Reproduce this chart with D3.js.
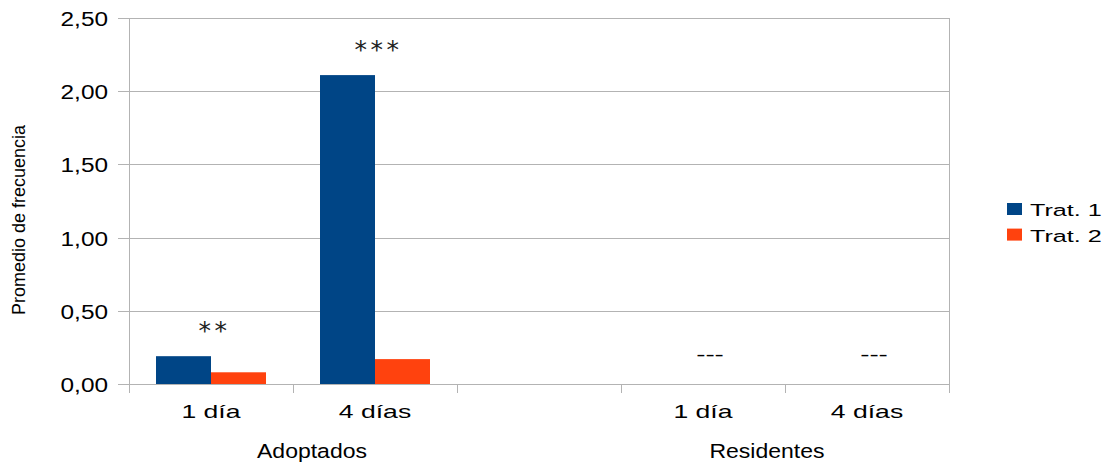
<!DOCTYPE html>
<html>
<head>
<meta charset="utf-8">
<script src="https://cdn.jsdelivr.net/npm/d3@7"></script>
<style>
  html, body { margin: 0; padding: 0; background: #fff; }
  svg { display: block; }
  text { font-family: "Liberation Sans", Arial, sans-serif; fill: #000; }
</style>
</head>
<body>
<script>
// ---- data ----
const groups = ["Adoptados", "Residentes"];
const groupOf = [0, 0, null, 1, 1];
const categories = ["1 día", "4 días", "", "1 día", "4 días"];
const seriesNames = ["Trat. 1", "Trat. 2"];
const trat1 = [0.19, 2.11, null, null, null];
const trat2 = [0.08, 0.17, null, null, null];
const annotations = ["**", "***", "", "---", "---"];
const yTicks = [0, 0.5, 1.0, 1.5, 2.0, 2.5];
const colors = ["#004586", "#ff420e"];

// ---- layout ----
const W = 1111, H = 466;
const pLeft = 129, pRight = 949, pTop = 18, pBottom = 384;
const svg = d3.select("body").append("svg").attr("width", W).attr("height", H);

const x = d3.scaleBand().domain(d3.range(categories.length)).range([pLeft, pRight]).padding(0);
const xs = d3.scaleBand().domain(seriesNames).range([0, x.bandwidth()]).paddingInner(0).paddingOuter(0.491);
const y = d3.scaleLinear().domain([0, 2.5]).range([pBottom, pTop]);
const loc = d3.formatLocale({decimal: ",", thousands: ".", grouping: [3], currency: ["", "€"]});
const fmt = loc.format(".2f");

function stext(g, str, tx, ty, size, sx, anchor, family) {
  const t = g.append("text")
    .attr("transform", `translate(${tx},${ty}) scale(${sx},1)`)
    .attr("text-anchor", anchor)
    .style("font-size", size + "px")
    .text(str);
  if (family) t.style("font-family", family);
  return t;
}

const grid = "#b3b3b3";
// gridlines + y ticks
svg.append("g").selectAll("line").data(yTicks).join("line")
  .attr("x1", pLeft - 11).attr("x2", pRight)
  .attr("y1", d => Math.round(y(d)) + 0.5).attr("y2", d => Math.round(y(d)) + 0.5)
  .attr("stroke", grid).attr("stroke-width", 1);

// y axis line
svg.append("line").attr("x1", pLeft + 0.5).attr("x2", pLeft + 0.5).attr("y1", pTop).attr("y2", pBottom + 9)
  .attr("stroke", grid);
// right border
svg.append("line").attr("x1", pRight + 0.5).attr("x2", pRight + 0.5).attr("y1", pTop).attr("y2", pBottom + 9)
  .attr("stroke", grid);
// x ticks at slot boundaries
const bounds = d3.range(categories.length + 1).map(i => i < categories.length ? x(i) : pRight);
svg.append("g").selectAll("line").data(bounds).join("line")
  .attr("x1", d => Math.round(d) + 0.5).attr("x2", d => Math.round(d) + 0.5)
  .attr("y1", pBottom).attr("y2", pBottom + 9)
  .attr("stroke", grid);

// y tick labels
const yl = svg.append("g");
yTicks.forEach(v => stext(yl, fmt(v), 108, y(v) + 8, 19.5, 1.25, "end"));

// y title
svg.append("text")
  .attr("transform", `translate(25,${(pTop + pBottom) / 2 + 19}) rotate(-90)`)
  .attr("text-anchor", "middle")
  .style("font-size", "18px")
  .text("Promedio de frecuencia");

// bars
const series = [trat1, trat2];
const bars = svg.append("g");
series.forEach((vals, si) => {
  bars.selectAll(null).data(vals.map((v, i) => ({v, i})).filter(d => d.v != null)).join("rect")
    .attr("x", d => x(d.i) + xs(seriesNames[si]))
    .attr("width", xs.bandwidth())
    .attr("y", d => y(d.v))
    .attr("height", d => y(0) - y(d.v))
    .attr("fill", colors[si]);
});

// annotations
const ann = svg.append("g");
annotations.forEach((a, i) => {
  if (!a) return;
  const vmax = d3.max([trat1[i], trat2[i], 0]);
  if (a.startsWith("*")) {
    stext(ann, a, x(i) + x.bandwidth() / 2 + 3.5, y(vmax) - 17, 25, 1, "middle", "DejaVu Sans")
      .style("letter-spacing", "3.5px").style("fill", "#222");
  } else {
    stext(ann, a, x(i) + x.bandwidth() / 2 + 7, y(vmax) - 23, 18.5, 1.5, "middle");
  }
});

// x tick labels
const xl = svg.append("g");
categories.forEach((c, i) => {
  if (c) stext(xl, c, x(i) + x.bandwidth() / 2, 418, 17.7, 1.5, "middle");
});

// group labels
const groupDx = [19, -18];
groups.forEach((gname, gi) => {
  const idx = groupOf.map((g, i) => g === gi ? i : -1).filter(i => i >= 0);
  const x0 = x(idx[0]), x1 = x(idx[idx.length - 1]) + x.bandwidth();
  stext(svg, gname, (x0 + x1) / 2 + groupDx[gi], 458, 19.5, 1.18, "middle");
});

// legend
const lg = svg.append("g");
seriesNames.forEach((s, i) => {
  const ly = 203 + i * 25.6;
  lg.append("rect").attr("x", 1007).attr("y", ly).attr("width", 15).attr("height", 12).attr("fill", colors[i]);
  stext(lg, s, 1030, ly + 13, 16.8, 1.5, "start");
});
</script>
</body>
</html>
